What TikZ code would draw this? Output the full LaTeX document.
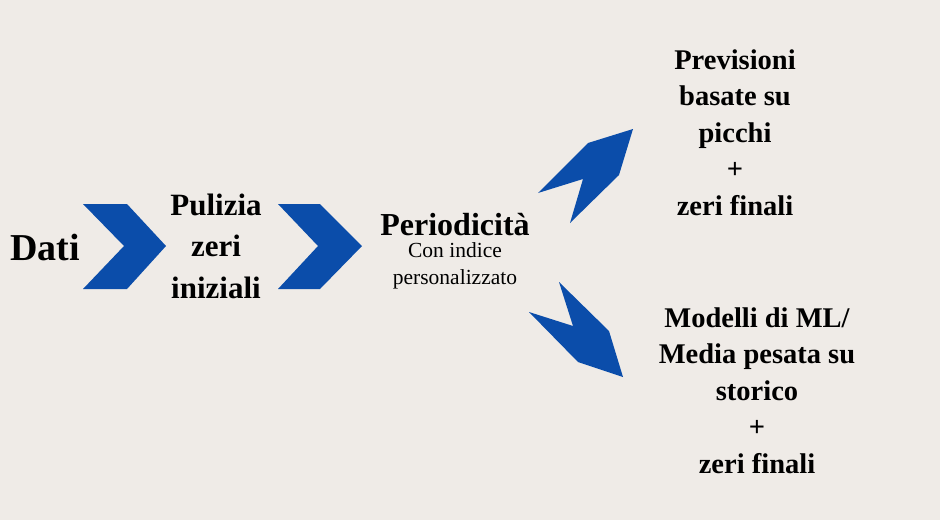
\documentclass[tikz,border=0pt]{standalone}
\usepackage{fontspec}
\setmainfont{Liberation Serif}
\usepackage{xcolor}
\usepackage{tikz}
\usetikzlibrary{positioning}

\definecolor{bgpaper}{HTML}{EFEBE7}
\definecolor{chevblue}{HTML}{0B4DAA}

\begin{document}
\begin{tikzpicture}[
    x=1pt, y=-1pt,
    title/.style={align=center, inner sep=0pt, anchor=base, font=\bfseries\fontsize{28.5}{36.5}\selectfont},
    note/.style={align=center, inner sep=0pt, anchor=base, font=\fontsize{21.5}{27}\selectfont},
    chevron/.style={fill=chevblue}
]

\fill[bgpaper] (0,0) rectangle (940,520);
\useasboundingbox (0,0) rectangle (940,520);

% base anchor = baseline of the last line
\node[title, font=\bfseries\fontsize{38}{40}\selectfont] (dati) at (45,260) {Dati};
\node[title, font=\bfseries\fontsize{31}{41.5}\selectfont] (pulizia) at (216,298) {Pulizia\\zeri\\iniziali};
\node[title, font=\bfseries\fontsize{32}{36}\selectfont] (period) at (455,235) {Periodicità};
\node[note] (indice) at (455,284) {Con indice\\personalizzato};
\node[title] (picchi) at (735,215) {Previsioni\\basate su\\picchi\\+\\zeri finali};
\node[title] (modelli) at (757,473) {Modelli di ML/\\Media pesata su\\storico\\+\\zeri finali};

% chevrons between the steps
\fill[chevron] (83,204) -- (127,204) -- (166,246) -- (127,289) -- (83,289) -- (124,246) -- cycle;
\fill[chevron] (278,204) -- (320,204) -- (362,246) -- (320,289) -- (278,289) -- (318,246) -- cycle;
\fill[chevron] (538,193) -- (588,143) -- (633,129) -- (619,175) -- (570,223) -- (583,179) -- cycle;
\fill[chevron] (559,282) -- (609,331) -- (623,377) -- (578,362) -- (529,312) -- (573,326) -- cycle;

\end{tikzpicture}
\end{document}
